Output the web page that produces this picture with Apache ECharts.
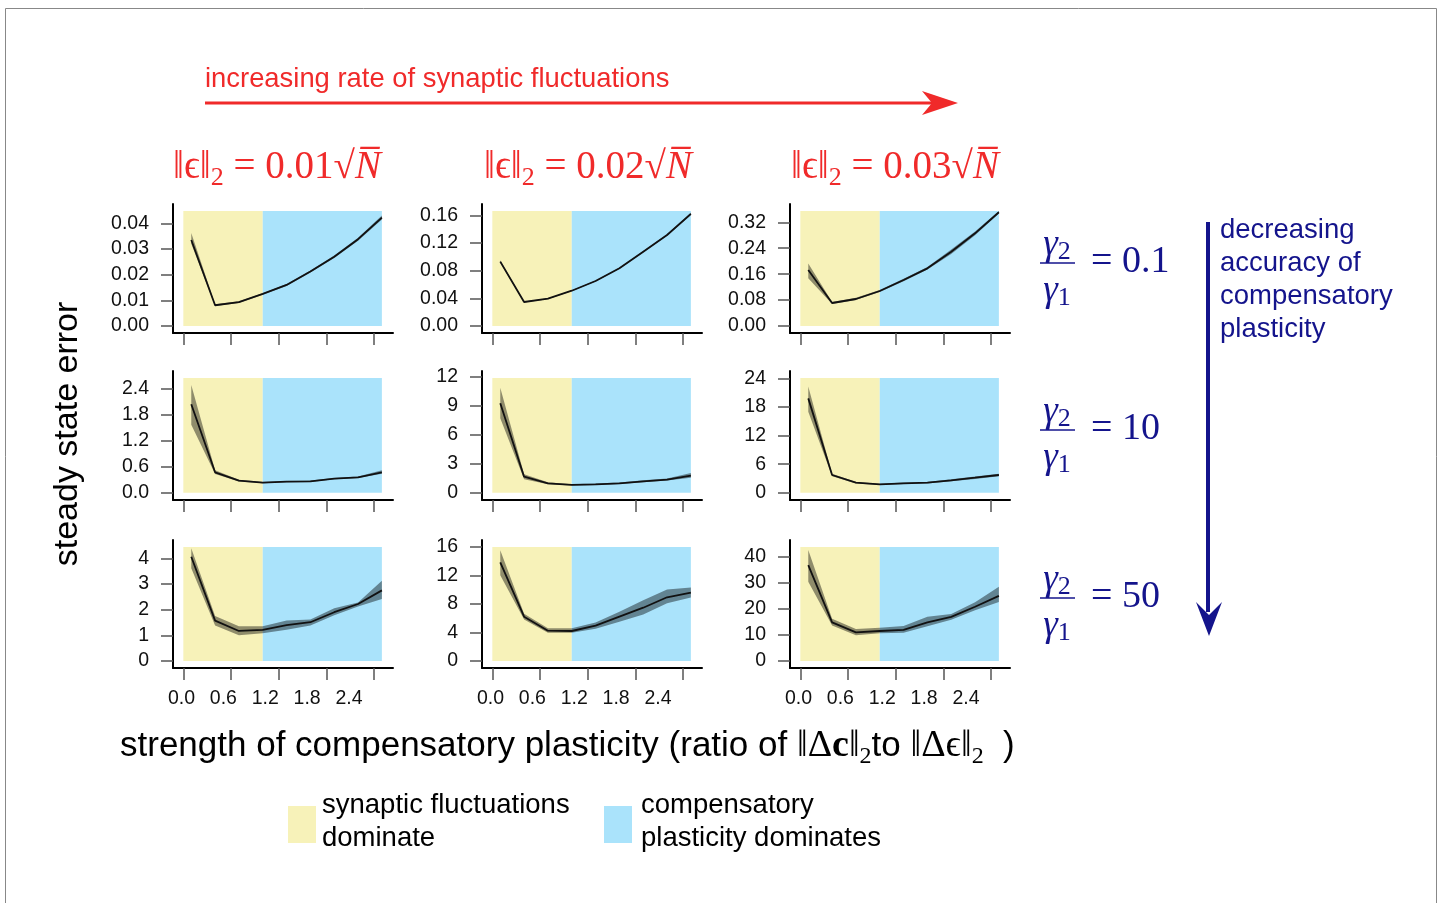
<!DOCTYPE html>
<html>
<head>
<meta charset="utf-8">
<script src="https://cdn.jsdelivr.net/npm/echarts@6/dist/echarts.min.js"></script>
<style>
html, body { margin: 0; padding: 0; background: #fff; }
#main { width: 1443px; height: 903px; }
</style>
</head>
<body>
<div id="main"></div>
<script>
// x positions of the simulation points, shared by all panels
var xValues = [0.1, 0.4, 0.7, 1.0, 1.3, 1.6, 1.9, 2.2, 2.5];
var xTicks = [0.0, 0.6, 1.2, 1.8, 2.4];
// shaded regions: [start, split, end] on the x axis
var regionBounds = [0.0, 1.0, 2.5];

// row 1 : gamma2/gamma1 = 0.1
var mean11 = [0.0335, 0.0081, 0.0093, 0.0125, 0.0160, 0.0212, 0.0270, 0.0338, 0.0422];
var low11  = [0.0320, 0.0078, 0.0090, 0.0122, 0.0156, 0.0208, 0.0265, 0.0332, 0.0415];
var high11 = [0.0362, 0.0085, 0.0097, 0.0128, 0.0164, 0.0216, 0.0275, 0.0344, 0.0430];
var mean12 = [0.093, 0.0347, 0.0395, 0.051, 0.065, 0.0834, 0.1074, 0.1315, 0.162];
var low12  = [0.091, 0.0340, 0.0388, 0.0503, 0.0642, 0.0825, 0.1064, 0.1305, 0.160];
var high12 = [0.095, 0.0354, 0.0402, 0.0517, 0.0658, 0.0843, 0.1084, 0.1325, 0.164];
var mean13 = [0.1728, 0.071, 0.0833, 0.108, 0.142, 0.178, 0.229, 0.286, 0.351];
var low13  = [0.147, 0.068, 0.080, 0.105, 0.138, 0.174, 0.222, 0.280, 0.347];
var high13 = [0.193, 0.074, 0.087, 0.111, 0.146, 0.182, 0.236, 0.292, 0.355];

// row 2 : gamma2/gamma1 = 10
var mean21 = [2.046, 0.472, 0.278, 0.231, 0.255, 0.263, 0.324, 0.356, 0.472];
var low21  = [1.57, 0.43, 0.26, 0.22, 0.24, 0.25, 0.31, 0.34, 0.44];
var high21 = [2.49, 0.52, 0.30, 0.245, 0.27, 0.28, 0.34, 0.375, 0.52];
var mean22 = [9.25, 1.66, 0.97, 0.80, 0.87, 0.97, 1.18, 1.35, 1.76];
var low22  = [7.7, 1.40, 0.88, 0.74, 0.80, 0.90, 1.08, 1.25, 1.55];
var high22 = [10.86, 1.90, 1.07, 0.87, 0.95, 1.05, 1.28, 1.47, 2.05];
var mean23 = [19.8, 3.72, 2.10, 1.76, 1.97, 2.10, 2.60, 3.15, 3.72];
var low23  = [17.0, 3.45, 1.95, 1.62, 1.82, 1.95, 2.40, 2.90, 3.45];
var high23 = [22.3, 4.00, 2.25, 1.90, 2.12, 2.25, 2.80, 3.40, 4.00];

// row 3 : gamma2/gamma1 = 50
var mean31 = [4.06, 1.57, 1.17, 1.21, 1.40, 1.51, 1.90, 2.22, 2.75];
var low31  = [3.61, 1.38, 1.00, 1.08, 1.22, 1.38, 1.78, 2.12, 2.41];
var high31 = [4.39, 1.75, 1.35, 1.35, 1.58, 1.62, 2.05, 2.28, 3.13];
var mean32 = [13.8, 6.2, 4.24, 4.2, 4.94, 6.2, 7.46, 8.92, 9.56];
var low32  = [12.0, 5.8, 3.95, 3.95, 4.5, 5.5, 6.5, 8.1, 8.9];
var high32 = [15.5, 6.6, 4.6, 4.6, 5.4, 6.9, 8.5, 10.0, 10.3];
var mean33 = [36.8, 14.8, 11.0, 11.5, 11.9, 14.8, 16.9, 20.8, 25.0];
var low33  = [30.4, 13.6, 9.9, 10.6, 10.8, 13.3, 15.8, 19.5, 22.6];
var high33 = [42.6, 16.2, 12.3, 12.8, 13.4, 17.0, 18.0, 22.5, 28.5];

// y tick labels per panel
var yTicks11 = [0, 0.01, 0.02, 0.03, 0.04];
var yTicks12 = [0, 0.04, 0.08, 0.12, 0.16];
var yTicks13 = [0, 0.08, 0.16, 0.24, 0.32];
var yTicks21 = [0, 0.6, 1.2, 1.8, 2.4];
var yTicks22 = [0, 3, 6, 9, 12];
var yTicks23 = [0, 6, 12, 18, 24];
var yTicks31 = [0, 1, 2, 3, 4];
var yTicks32 = [0, 4, 8, 12, 16];
var yTicks33 = [0, 10, 20, 30, 40];

// y axis extents [min, max]
var yRange11 = [-0.0027, 0.0475];
var yRange12 = [-0.0101, 0.1763];
var yRange13 = [-0.0216, 0.3765];
var yRange21 = [-0.169, 2.816];
var yRange22 = [-0.755, 12.59];
var yRange23 = [-1.53, 25.55];
var yRange31 = [-0.273, 4.713];
var yRange32 = [-0.98, 16.94];
var yRange33 = [-2.68, 46.4];

var colTitles = ['0.01', '0.02', '0.03'];
var rowTitles = ['0.1', '10', '50'];

var panels = [
	{ mean: mean11, low: low11, high: high11, ticks: yTicks11, range: yRange11, dec: 2 },
	{ mean: mean12, low: low12, high: high12, ticks: yTicks12, range: yRange12, dec: 2 },
	{ mean: mean13, low: low13, high: high13, ticks: yTicks13, range: yRange13, dec: 2 },
	{ mean: mean21, low: low21, high: high21, ticks: yTicks21, range: yRange21, dec: 1 },
	{ mean: mean22, low: low22, high: high22, ticks: yTicks22, range: yRange22, dec: 0 },
	{ mean: mean23, low: low23, high: high23, ticks: yTicks23, range: yRange23, dec: 0 },
	{ mean: mean31, low: low31, high: high31, ticks: yTicks31, range: yRange31, dec: 0 },
	{ mean: mean32, low: low32, high: high32, ticks: yTicks32, range: yRange32, dec: 0 },
	{ mean: mean33, low: low33, high: high33, ticks: yTicks33, range: yRange33, dec: 0 }
];

var SANS = '"Liberation Sans", Arial, sans-serif';
var SERIF = '"Liberation Serif", "DejaVu Serif", serif';
var YELLOW = '#f7f2b9';
var BLUE = '#aae3fb';
var RED = '#f02a2a';
var NAVY = '#14148c';

var gridLeft = [173, 482, 790];
var gridTop = [204, 371, 540];
var gridHeight = [129, 129, 128];

var grids = [], xAxes = [], yAxes = [], series = [];

// shaded spread around the mean, one polygon per panel
function bandRenderer(p) {
	return function (params, api) {
		if (params.dataIndex !== 0) return null;
		var pts = [], k;
		for (k = 0; k < xValues.length; k++) pts.push(api.coord([xValues[k], p.high[k]]));
		for (k = xValues.length - 1; k >= 0; k--) pts.push(api.coord([xValues[k], p.low[k]]));
		return { type: 'polygon', shape: { points: pts }, style: { fill: 'rgba(0,0,0,0.42)' } };
	};
}

panels.forEach(function (p, i) {
	var row = Math.floor(i / 3), col = i % 3;
	grids.push({
		left: gridLeft[col], top: gridTop[row], width: 220, height: gridHeight[row],
		outerBoundsMode: 'none'
	});
	xAxes.push({
		type: 'value', gridIndex: i, min: -0.13, max: 2.64, position: 'bottom',
		splitLine: { show: false },
		axisLine: { onZero: false, lineStyle: { color: '#000', width: 2 } },
		axisTick: { customValues: xTicks, length: 12, lineStyle: { color: '#555', width: 1.5 } },
		axisLabel: { show: false }
	});
	yAxes.push({
		type: 'value', gridIndex: i, min: p.range[0], max: p.range[1],
		splitLine: { show: false },
		axisLine: { onZero: false, lineStyle: { color: '#000', width: 2 } },
		axisTick: { customValues: p.ticks, length: 12, lineStyle: { color: '#555', width: 1.5 } },
		axisLabel: {
			customValues: p.ticks, margin: 24, color: '#111', fontFamily: SANS, fontSize: 19.5,
			formatter: (function (d) { return function (v) { return v.toFixed(d); }; })(p.dec)
		}
	});

	var top = p.range[1] - (p.range[1] - p.range[0]) * 0.054;
	var bandData = [], meanData = [];
	for (var k = 0; k < xValues.length; k++) {
		bandData.push([xValues[k], p.low[k], p.high[k]]);
		meanData.push([xValues[k], p.mean[k]]);
	}
	series.push({
		type: 'custom', xAxisIndex: i, yAxisIndex: i, z: 2, silent: true,
		data: bandData, encode: { x: 0, y: [1, 2] },
		renderItem: bandRenderer(p)
	});
	series.push({
		type: 'line', xAxisIndex: i, yAxisIndex: i, z: 3,
		data: meanData, symbol: 'none', silent: true,
		lineStyle: { color: '#111', width: 1.8 },
		markArea: {
			silent: true, z: 1,
			data: [
				[{ xAxis: regionBounds[0], yAxis: 0, itemStyle: { color: YELLOW, opacity: 1 } },
				 { xAxis: regionBounds[1], yAxis: top }],
				[{ xAxis: regionBounds[1], yAxis: 0, itemStyle: { color: BLUE, opacity: 1 } },
				 { xAxis: regionBounds[2], yAxis: top }]
			]
		}
	});
});

// tick labels of the bottom row sit on their own (slightly compressed) scale
for (var c = 0; c < 3; c++) {
	xAxes.push({
		type: 'value', gridIndex: 6 + c, min: -0.122, max: 3.03, position: 'bottom',
		splitLine: { show: false }, axisLine: { show: false }, axisTick: { show: false },
		axisLabel: {
			customValues: xTicks, margin: 21, color: '#111', fontFamily: SANS, fontSize: 19.5,
			formatter: function (v) { return v.toFixed(1); }
		}
	});
}

var titleRich = {
	m: { fontFamily: SERIF, fontSize: 39, lineHeight: 46, verticalAlign: 'middle' },
	i: { fontFamily: SERIF, fontStyle: 'italic', fontSize: 39, lineHeight: 46, verticalAlign: 'middle' },
	s: { fontFamily: SERIF, fontSize: 26, lineHeight: 27, verticalAlign: 'bottom' }
};
var fracRich = {
	i: { fontFamily: SERIF, fontStyle: 'italic', fontSize: 37, lineHeight: 40, verticalAlign: 'middle' },
	s: { fontFamily: SERIF, fontSize: 26, lineHeight: 30, verticalAlign: 'bottom' }
};

var graphics = [
	{ type: 'rect', shape: { x: 5.5, y: 8.5, width: 1431, height: 910 }, style: { fill: 'none', stroke: '#888', lineWidth: 1 } },
	{ type: 'text', x: 205, y: 79, style: { text: 'increasing rate of synaptic fluctuations', font: '27.4px ' + SANS, fill: RED, align: 'left', verticalAlign: 'middle' } },
	{ type: 'line', shape: { x1: 205, y1: 103, x2: 940, y2: 103 }, style: { stroke: RED, lineWidth: 3 } },
	{ type: 'polygon', shape: { points: [[922, 91], [958, 103], [922, 115], [932, 103]] }, style: { fill: RED } },
	{ type: 'text', x: 68, y: 434, rotation: Math.PI / 2, style: { text: 'steady state error', font: '34px ' + SANS, fill: '#000', align: 'center', verticalAlign: 'middle' } },
	{ type: 'line', shape: { x1: 1208, y1: 222, x2: 1208, y2: 612 }, style: { stroke: NAVY, lineWidth: 4 } },
	{ type: 'polygon', shape: { points: [[1196, 602], [1209, 615], [1222, 602], [1209, 636]] }, style: { fill: NAVY } },
	{ type: 'text', x: 1220, y: 214, style: { text: 'decreasing\naccuracy of\ncompensatory\nplasticity', font: '27.5px ' + SANS, lineHeight: 33, fill: NAVY, align: 'left', verticalAlign: 'top' } },
	{ type: 'text', x: 120, y: 746, style: {
		text: '{t|strength of compensatory plasticity (ratio of }{m|‖Δ}{b|c}{m|‖}{s|2}{t|to }{m|‖Δϵ‖}{s|2}{t|  )}',
		align: 'left', verticalAlign: 'middle', fill: '#000',
		rich: {
			t: { fontFamily: SANS, fontSize: 35, lineHeight: 46, verticalAlign: 'middle' },
			m: { fontFamily: SERIF, fontSize: 38, lineHeight: 46, verticalAlign: 'middle' },
			b: { fontFamily: SERIF, fontWeight: 'bold', fontSize: 38, lineHeight: 46, verticalAlign: 'middle' },
			s: { fontFamily: SERIF, fontSize: 24, lineHeight: 28, verticalAlign: 'bottom' }
		}
	} },
	{ type: 'rect', shape: { x: 288, y: 806, width: 28, height: 37 }, style: { fill: YELLOW } },
	{ type: 'text', x: 322, y: 789, style: { text: 'synaptic fluctuations\ndominate', font: '27.5px ' + SANS, lineHeight: 33, fill: '#000', align: 'left', verticalAlign: 'top' } },
	{ type: 'rect', shape: { x: 604, y: 806, width: 28, height: 37 }, style: { fill: BLUE } },
	{ type: 'text', x: 641, y: 789, style: { text: 'compensatory\nplasticity dominates', font: '27.5px ' + SANS, lineHeight: 33, fill: '#000', align: 'left', verticalAlign: 'top' } }
];

var titleX = [277, 588, 895];
colTitles.forEach(function (t, c) {
	graphics.push({ type: 'text', x: titleX[c], y: 168, style: {
		text: '{m|‖ϵ‖}{s|2}{m| = ' + t + '√}{i|N\u0305}', align: 'center', verticalAlign: 'middle', fill: RED, rich: titleRich
	} });
});

var fracLine = [263, 430, 598];
rowTitles.forEach(function (t, r) {
	var y = fracLine[r];
	graphics.push({ type: 'text', x: 1057, y: y - 18, style: { text: '{i|γ}{s|2}', align: 'center', verticalAlign: 'middle', fill: NAVY, rich: fracRich } });
	graphics.push({ type: 'line', shape: { x1: 1040, y1: y, x2: 1075, y2: y }, style: { stroke: NAVY, lineWidth: 1.5 } });
	graphics.push({ type: 'text', x: 1057, y: y + 28, style: { text: '{i|γ}{s|1}', align: 'center', verticalAlign: 'middle', fill: NAVY, rich: fracRich } });
	graphics.push({ type: 'text', x: 1091, y: y - 1, style: { text: '= ' + t, font: '38px ' + SERIF, fill: NAVY, align: 'left', verticalAlign: 'middle' } });
});

var chart = echarts.init(document.getElementById('main'));
chart.setOption({
	animation: false,
	backgroundColor: '#fff',
	grid: grids,
	xAxis: xAxes,
	yAxis: yAxes,
	series: series,
	graphic: { elements: graphics }
});
</script>
</body>
</html>
